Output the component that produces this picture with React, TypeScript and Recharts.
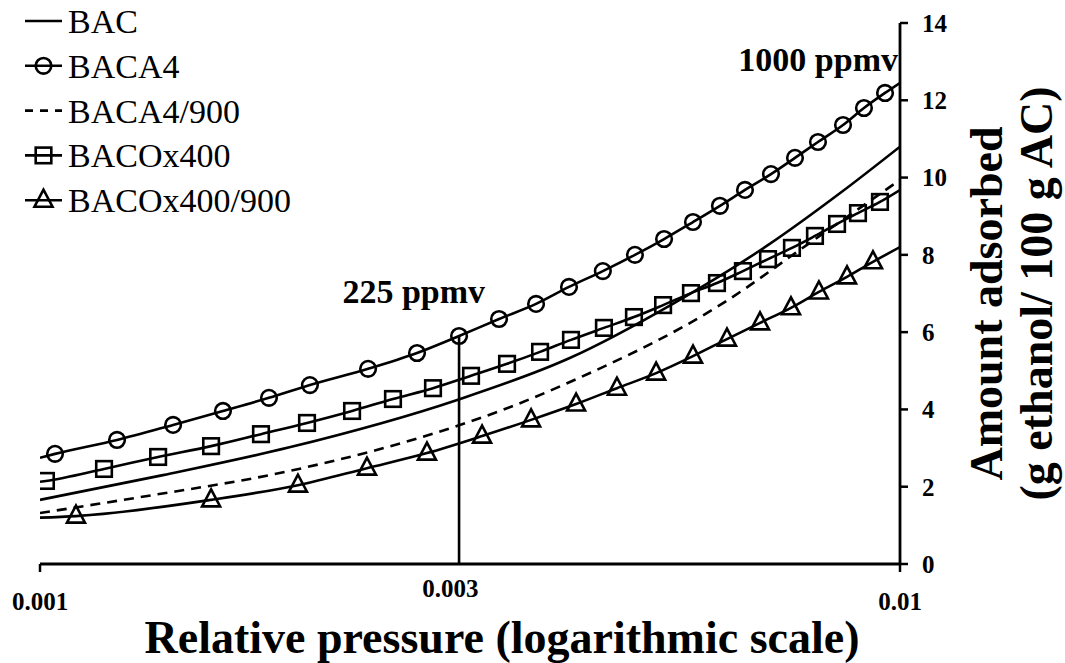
import React from "react";
import { LineChart, Line, XAxis, YAxis, ReferenceLine, ReferenceDot } from "recharts";

const FONT = "'Liberation Serif', 'Times New Roman', serif";

// relative pressure (x) and amount adsorbed, g ethanol / 100 g AC (y)
const bacP = [0.001, 0.00139, 0.00195, 0.00305, 0.00413, 0.00545, 0.00702, 0.00852, 0.01];
const bacY = [1.66, 2.3, 3.02, 4.24, 5.33, 6.74, 8.25, 9.6, 10.8];

const baca4P = [
  0.001, 0.001041, 0.001229, 0.001428, 0.001632, 0.001846, 0.00206, 0.002407, 0.002744,
  0.003071, 0.003418, 0.003774, 0.004122, 0.004513, 0.004918, 0.005317, 0.005745, 0.006175,
  0.006603, 0.007079, 0.007549, 0.008028, 0.008585, 0.00908, 0.009607, 0.01,
];
const baca4Y = [
  2.75, 2.85, 3.21, 3.6, 3.96, 4.3, 4.63, 5.05, 5.46, 5.9, 6.34, 6.73, 7.17, 7.58, 8.0, 8.41,
  8.85, 9.27, 9.68, 10.09, 10.51, 10.92, 11.36, 11.8, 12.19, 12.45,
];

const baca4900P = [0.001, 0.001307, 0.001953, 0.003053, 0.003426, 0.004132, 0.006226, 0.007796, 0.01];
const baca4900Y = [1.32, 1.73, 2.41, 3.57, 3.96, 4.71, 6.75, 8.26, 9.94];

const bacoxP = [
  0.001, 0.001016, 0.001187, 0.001372, 0.001581, 0.001807, 0.002044, 0.002306, 0.002573,
  0.002864, 0.003171, 0.003492, 0.003815, 0.004144, 0.004526, 0.004905, 0.005303, 0.005714,
  0.006126, 0.006567, 0.007023, 0.007488, 0.007964, 0.008449, 0.008936, 0.009478, 0.01,
];
const bacoxY = [
  2.13, 2.15, 2.46, 2.77, 3.05, 3.36, 3.65, 3.96, 4.27, 4.55, 4.87, 5.18, 5.49, 5.8, 6.11,
  6.39, 6.7, 7.01, 7.27, 7.58, 7.89, 8.18, 8.49, 8.8, 9.08, 9.37, 9.68,
];

const bacox900P = [
  0.001, 0.001101, 0.001581, 0.001995, 0.0024, 0.002818, 0.003266, 0.003724, 0.004201,
  0.004687, 0.005205, 0.005745, 0.006292, 0.006874, 0.007468, 0.008049, 0.008677, 0.009302, 0.01,
];
const bacox900Y = [
  1.2, 1.24, 1.66, 2.04, 2.48, 2.87, 3.31, 3.73, 4.14, 4.55, 4.94, 5.38, 5.82, 6.24, 6.63,
  7.04, 7.43, 7.82, 8.2,
];

const xTicks = [0.001, 0.01];
const yTicks = [0, 2, 4, 6, 8, 10, 12, 14];

const mark225 = { p: 0.003071, y: 5.9, labelY: 6.75 };
const mark1000 = { p: 0.01, labelY: 12.76 };

const zip = (p: number[], y: number[]) => p.map((v, i) => ({ p: v, y: y[i] }));

type Kind = "none" | "circle" | "square" | "triangle";

const series: { name: string; data: { p: number; y: number }[]; marker: Kind; dash?: string }[] = [
  { name: "BAC", data: zip(bacP, bacY), marker: "none" },
  { name: "BACA4", data: zip(baca4P, baca4Y), marker: "circle" },
  { name: "BACA4/900", data: zip(baca4900P, baca4900Y), marker: "none", dash: "10 7" },
  { name: "BACOx400", data: zip(bacoxP, bacoxY), marker: "square" },
  { name: "BACOx400/900", data: zip(bacox900P, bacox900Y), marker: "triangle" },
];

const SW = 2.6;

function Marker({ kind, cx, cy }: { kind: Kind; cx: number; cy: number }) {
  const st = { fill: "none", stroke: "#000", strokeWidth: SW };
  if (kind === "circle") return <circle cx={cx} cy={cy} r={7.8} {...st} />;
  if (kind === "square") return <rect x={cx - 7.8} y={cy - 7.8} width={15.6} height={15.6} {...st} />;
  if (kind === "triangle")
    return <polygon points={`${cx},${cy - 10.5} ${cx - 9},${cy + 6.5} ${cx + 9},${cy + 6.5}`} {...st} />;
  return null;
}

function LegendBox() {
  return (
    <svg width={330} height={230} style={{ position: "absolute", left: 0, top: 0 }}>
      {series.map((s, i) => {
        const cy = 21 + i * 44.8;
        return (
          <g key={s.name}>
            <line x1={25} x2={62} y1={cy} y2={cy} stroke="#000" strokeWidth={SW} strokeDasharray={s.dash ? "8 7" : undefined} />
            <Marker kind={s.marker} cx={43.5} cy={cy} />
            <text x={68} y={cy + 12} fontFamily={FONT} fontSize={34} fill="#000">
              {s.name}
            </text>
          </g>
        );
      })}
    </svg>
  );
}

const XTick = (props: any) => {
  const { x, y, payload } = props;
  return (
    <text x={x} y={y + 38} textAnchor="middle" fontFamily={FONT} fontSize={25} fontWeight="bold" fill="#000">
      {String(payload.value)}
    </text>
  );
};

export default function App() {
  return (
    <div style={{ position: "absolute", left: 0, top: 0, width: 1065, height: 663, background: "#fff" }}>
      <LineChart width={1065} height={663} margin={{ top: 23, right: 105, bottom: 59, left: 40 }}>
        <XAxis
          dataKey="p"
          type="number"
          scale="log"
          domain={[0.001, 0.01]}
          allowDataOverflow
          ticks={xTicks}
          height={40}
          tickSize={8}
          tickMargin={0}
          axisLine={{ stroke: "#000", strokeWidth: 2.8 }}
          tickLine={{ stroke: "#000", strokeWidth: 2.5 }}
          tick={<XTick />}
          label={{
            content: (p: any) => {
              const vb = p.viewBox || { x: 40, y: 564, width: 860 };
              return (
                <text x={vb.x + vb.width / 2 + 32} y={vb.y + 89} textAnchor="middle" fontFamily={FONT} fontSize={46} fontWeight="bold" fill="#000">
                  Relative pressure (logarithmic scale)
                </text>
              );
            },
          }}
        />
        <YAxis
          orientation="right"
          type="number"
          domain={[0, 14]}
          ticks={yTicks}
          width={60}
          tickSize={8}
          tickMargin={14}
          axisLine={{ stroke: "#000", strokeWidth: 2.8 }}
          tickLine={{ stroke: "#000", strokeWidth: 2.5 }}
          tick={{ fontFamily: FONT, fontSize: 25, fontWeight: "bold", fill: "#000" }}
          label={{
            content: (p: any) => {
              const vb = p.viewBox || { x: 900, y: 23, width: 60, height: 541 };
              const mid = vb.y + vb.height / 2;
              return (
                <g fontFamily={FONT} fontSize={46} fontWeight="bold" fill="#000">
                  <text transform={`translate(${vb.x + 102},${mid + 10}) rotate(-90)`} textAnchor="middle">
                    Amount adsorbed
                  </text>
                  <text transform={`translate(${vb.x + 152},${mid}) rotate(-90)`} textAnchor="middle">
                    (g ethanol/ 100 g AC)
                  </text>
                </g>
              );
            },
          }}
        />
        <ReferenceLine
          segment={[{ x: mark225.p, y: 0 }, { x: mark225.p, y: mark225.y }]}
          stroke="#000"
          strokeWidth={SW}
          ifOverflow="visible"
        />
        {series.map((s) => (
          <Line
            key={s.name}
            data={s.data}
            dataKey="y"
            type="monotone"
            stroke="#000"
            strokeWidth={SW}
            strokeDasharray={s.dash}
            isAnimationActive={false}
            activeDot={false}
            dot={
              s.marker === "none"
                ? false
                : (props: any) => {
                    const { cx, cy, index } = props;
                    if (index === 0 || index === s.data.length - 1) return <g key={`${s.name}-${index}`} />;
                    return (
                      <g key={`${s.name}-${index}`}>
                        <Marker kind={s.marker} cx={cx} cy={cy} />
                      </g>
                    );
                  }
            }
          />
        ))}
        <ReferenceDot
          x={0.003}
          y={0}
          r={0}
          fill="none"
          stroke="none"
          ifOverflow="visible"
          label={{
            content: (p: any) => (
              <text x={p.viewBox.x} y={p.viewBox.y + 33} textAnchor="middle" fontFamily={FONT} fontSize={25} fontWeight="bold" fill="#000">
                0.003
              </text>
            ),
          }}
        />
        <ReferenceDot
          x={mark225.p}
          y={mark225.labelY}
          r={0}
          fill="none"
          stroke="none"
          ifOverflow="visible"
          label={{
            content: (p: any) => (
              <text x={p.viewBox.x + 26} y={p.viewBox.y} textAnchor="end" fontFamily={FONT} fontSize={34} fontWeight="bold" fill="#000">
                225 ppmv
              </text>
            ),
          }}
        />
        <ReferenceDot
          x={mark1000.p}
          y={mark1000.labelY}
          r={0}
          fill="none"
          stroke="none"
          ifOverflow="visible"
          label={{
            content: (p: any) => (
              <text x={p.viewBox.x - 2} y={p.viewBox.y} textAnchor="end" fontFamily={FONT} fontSize={34} fontWeight="bold" fill="#000">
                1000 ppmv
              </text>
            ),
          }}
        />
      </LineChart>
      <LegendBox />
    </div>
  );
}
